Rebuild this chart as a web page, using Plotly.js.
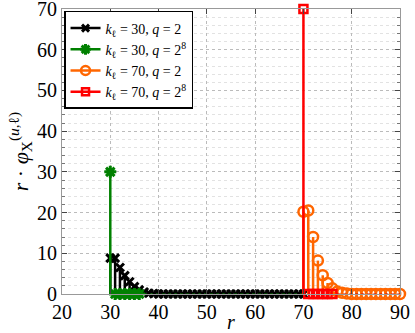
<!DOCTYPE html>
<html>
<head>
<meta charset="utf-8">
<script src="https://cdn.plot.ly/plotly-3.0.1.min.js"></script>
<style>
  html, body { margin: 0; padding: 0; background: #fff; }
  #plot { width: 415px; height: 333px; }
</style>
</head>
<body>
<div id="plot"></div>
<script>
// r values and r*phi values
let rK30 = [30, 31, 32, 33, 34, 35, 36, 37, 38, 39, 40, 41, 42, 43, 44, 45, 46, 47, 48, 49, 50,
            51, 52, 53, 54, 55, 56, 57, 58, 59, 60, 61, 62, 63, 64, 65, 66, 67, 68, 69, 70];
let phiK30q2 = [8.8, 8.8, 6.5, 4.5, 3.0, 1.8, 1.0, 0.5, 0.2, 0.1, 0, 0, 0, 0, 0, 0, 0, 0, 0, 0, 0,
                0, 0, 0, 0, 0, 0, 0, 0, 0, 0, 0, 0, 0, 0, 0, 0, 0, 0, 0, 0];
let rK30q8 = [30, 31, 32, 33, 34, 35, 36];
let phiK30q8 = [30, 0, 0, 0, 0, 0, 0];

let rK70 = [70, 71, 72, 73, 74, 75, 76, 77, 78, 79, 80, 81, 82, 83, 84, 85, 86, 87, 88, 89, 90];
let phiK70q2 = [20.2, 20.5, 14.0, 8.2, 4.6, 2.7, 1.4, 0.6, 0.3, 0.1, 0, 0, 0, 0, 0, 0, 0, 0, 0, 0, 0];
let rK70q8 = [70, 71, 72, 73, 74, 75, 76];
let phiK70q8 = [70, 0, 0, 0, 0, 0, 0];

let xTicks = [20, 30, 40, 50, 60, 70, 80, 90];
let yTicks = [0, 10, 20, 30, 40, 50, 60, 70];

let names = [
  '<i>k</i><sub>ℓ</sub> = 30, <i>q</i> = 2',
  '<i>k</i><sub>ℓ</sub> = 30, <i>q</i> = 2<sup>8</sup>',
  '<i>k</i><sub>ℓ</sub> = 70, <i>q</i> = 2',
  '<i>k</i><sub>ℓ</sub> = 70, <i>q</i> = 2<sup>8</sup>'
];

let serif = 'Liberation Serif, Times New Roman, serif';

// vertical stem segments as one line trace
function stems(xs, ys, color) {
  let sx = [], sy = [];
  xs.forEach(function(x, i) {
    sx.push(x, x, null);
    sy.push(0, ys[i], null);
  });
  return {
    x: sx, y: sy, mode: 'lines', type: 'scatter', showlegend: false,
    line: { color: color, width: 2.5 }, hoverinfo: 'skip', cliponaxis: false
  };
}

function heads(xs, ys, color, symbol, size, lw) {
  return {
    x: xs, y: ys, mode: 'markers', type: 'scatter', showlegend: false,
    marker: { symbol: symbol, size: size, color: color, line: { color: color, width: lw } },
    cliponaxis: false
  };
}

function legendItem(name, color, symbol, size, lw) {
  return {
    x: [null], y: [null], mode: 'lines+markers', type: 'scatter', name: name,
    line: { color: color, width: 2.5 },
    marker: { symbol: symbol, size: size, color: color, line: { color: color, width: lw } }
  };
}

function baseline(xs, color) {
  return {
    x: xs, y: xs.map(function() { return 0; }), mode: 'lines', type: 'scatter', showlegend: false,
    line: { color: color, width: 1.2, dash: 'dot' }, hoverinfo: 'skip', cliponaxis: false
  };
}

let cBlack = '#000000', cGreen = '#008000', cOrange = '#ff6600', cRed = '#ff0000';

var data = [
  stems(rK30, phiK30q2, cBlack),
  heads(rK30, phiK30q2, cBlack, 'x-thin-open', 8, 3),
  stems(rK30q8, phiK30q8, cGreen),
  heads(rK30q8, phiK30q8, cGreen, 'asterisk-open', 10, 3),
  baseline(rK30.slice(rK30q8.length), cGreen),
  stems(rK70, phiK70q2, cOrange),
  heads(rK70, phiK70q2, cOrange, 'circle-open', 10, 2.5),
  stems(rK70q8, phiK70q8, cRed),
  heads(rK70q8, phiK70q8, cRed, 'square-open', 8, 2.5),
  baseline(rK70.slice(rK70q8.length), '#cc0000'),
  legendItem(names[0], cBlack, 'x-thin-open', 7, 3),
  legendItem(names[1], cGreen, 'asterisk-open', 9, 3),
  legendItem(names[2], cOrange, 'circle-open', 9, 2.5),
  legendItem(names[3], cRed, 'square-open', 7, 2.5)
];

var layout = {
  width: 415, height: 333,
  margin: { l: 62, r: 15, t: 9, b: 39 },
  paper_bgcolor: '#fff', plot_bgcolor: '#fff',
  font: { family: serif, color: '#000', size: 19 },
  showlegend: true,
  legend: {
    x: 0.006, y: 0.993, xanchor: 'left', yanchor: 'top',
    bgcolor: '#fff', bordercolor: '#000', borderwidth: 1.5,
    font: { family: serif, size: 14, color: '#000' },
    tracegroupgap: 0, itemwidth: 30
  },
  xaxis: {
    range: [20, 90], tickmode: 'array', tickvals: xTicks,
    ticks: 'inside', ticklen: 5, tickcolor: '#444', ticklabeloverflow: 'allow',
    showline: true, linecolor: '#999', linewidth: 1, mirror: 'ticks',
    showgrid: true, gridcolor: '#bbb', griddash: 'dot', zeroline: false,
    tickfont: { family: serif, size: 20 },
    title: { text: '<i>r</i>', font: { family: serif, size: 20 }, standoff: 0 }
  },
  yaxis: {
    range: [0, 70], tickmode: 'array', tickvals: yTicks,
    ticks: 'inside', ticklen: 5, tickcolor: '#444', ticklabeloverflow: 'allow',
    showline: true, linecolor: '#999', linewidth: 1, mirror: 'ticks',
    showgrid: true, gridcolor: '#bbb', griddash: 'dot', zeroline: false,
    minor: { dtick: 2, ticks: 'inside', ticklen: 3, tickcolor: '#777',
             showgrid: true, gridcolor: '#e2e2e2', griddash: 'dot' },
    tickfont: { family: serif, size: 20 },
    title: { text: '<i>r</i> · <i>φ</i><sub>X</sub><sup>(<i>u</i>,ℓ)</sup>',
             font: { family: serif, size: 22 }, standoff: 2 }
  }
};

Plotly.newPlot('plot', data, layout, { displayModeBar: false, staticPlot: true });
</script>
</body>
</html>
